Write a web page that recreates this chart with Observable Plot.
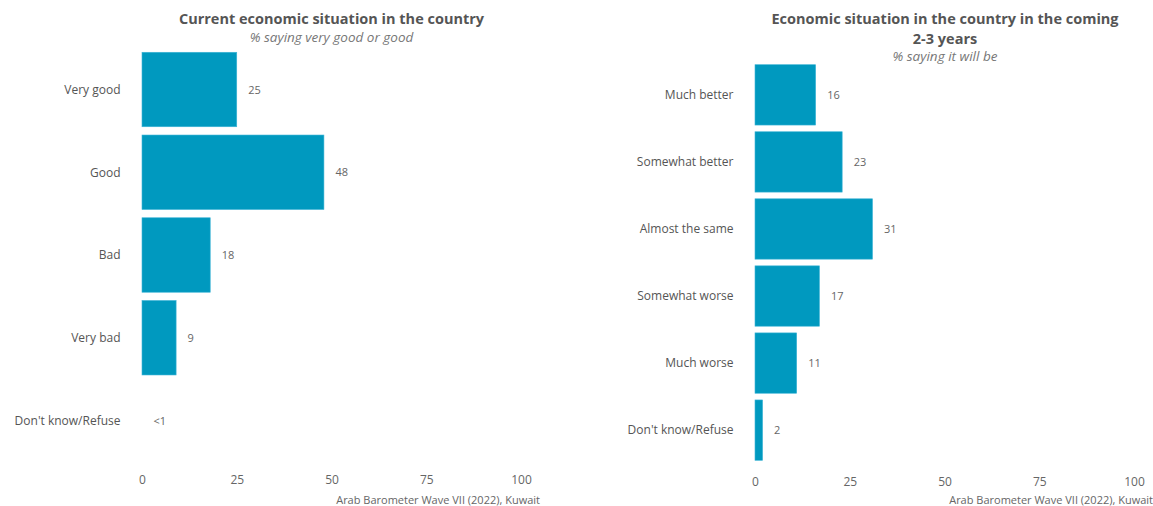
<!DOCTYPE html>
<html>
<head>
<meta charset="utf-8">
<script src="https://cdn.jsdelivr.net/npm/d3@7"></script>
<script src="https://cdn.jsdelivr.net/npm/@observablehq/plot@0.6"></script>
<style>
  body { margin: 0; background: #fff; font-family: "Open Sans", sans-serif; }
  #wrap { position: relative; width: 1153px; height: 506px; overflow: hidden; }
  .panel { position: absolute; top: 0; width: 540px; height: 506px; }
  .panel svg { position: absolute; left: 0; top: 0; }
  .title { position: absolute; text-align: center; font-weight: 700; font-size: 14.5px; color: #555; line-height: 20px; white-space: nowrap; }
  .sub { position: absolute; text-align: center; font-style: italic; font-size: 13.5px; color: #777; line-height: 18px; white-space: nowrap; }
  .cap { position: absolute; right: 0; font-size: 11px; color: #666; white-space: nowrap; }
</style>
</head>
<body>
<div id="wrap">
  <div class="panel" id="p1" style="left:0px">
    <div class="title" style="left:142px;width:379px;top:9px">Current economic situation in the country</div>
    <div class="sub" style="left:142px;width:379px;top:28px">% saying very good or good</div>
    <div class="cap" style="top:492px">Arab Barometer Wave VII (2022), Kuwait</div>
  </div>
  <div class="panel" id="p2" style="left:613px">
    <div class="title" style="left:142px;width:380px;top:9px">Economic situation in the country in the coming<br>2-3 years</div>
    <div class="sub" style="left:142px;width:380px;top:47px">% saying it will be</div>
    <div class="cap" style="top:492px">Arab Barometer Wave VII (2022), Kuwait</div>
  </div>
</div>
<script>
const leftCategories = ["Very good", "Good", "Bad", "Very bad", "Don't know/Refuse"];
const leftValues = [25, 48, 18, 9, 0];
const leftLabels = ["25", "48", "18", "9", "<1"];

const rightCategories = ["Much better", "Somewhat better", "Almost the same", "Somewhat worse", "Much worse", "Don't know/Refuse"];
const rightValues = [16, 23, 31, 17, 11, 2];
const rightLabels = ["16", "23", "31", "17", "11", "2"];

const xTicks = [0, 25, 50, 75, 100];
const barColor = "#0099bf";

function makeChart(cats, vals, labels, marginTop, marginBottom) {
  const data = cats.map((c, i) => ({cat: c, value: vals[i], label: labels[i]}));
  return Plot.plot({
    width: 540,
    height: 490,
    marginLeft: 142,
    marginRight: 19,
    marginTop: marginTop,
    marginBottom: marginBottom,
    style: {fontFamily: "Open Sans, sans-serif", color: "#555", background: "transparent"},
    x: {domain: [0, 100], ticks: xTicks, label: null},
    y: {domain: cats, label: null, padding: 0.1, round: false},
    marks: [
      Plot.axisX({ticks: xTicks, tickSize: 0, tickPadding: 33 - marginBottom, fontSize: 12, fill: "#666", label: null}),
      Plot.axisY({tickSize: 0, tickPadding: 22, fontSize: 12, fill: "#555", label: null}),
      Plot.barX(data, {y: "cat", x: "value", fill: barColor, stroke: "#3db4d6", strokeWidth: 0.6}),
      Plot.text(data, {y: "cat", x: "value", text: "label", textAnchor: "start", dx: 11, fontSize: 11, fill: "#666"})
    ]
  });
}

const c1 = makeChart(leftCategories, leftValues, leftLabels, 44, 24);
const c2 = makeChart(rightCategories, rightValues, rightLabels, 58, 23);
document.getElementById("p1").prepend(c1);
document.getElementById("p2").prepend(c2);
</script>
</body>
</html>
